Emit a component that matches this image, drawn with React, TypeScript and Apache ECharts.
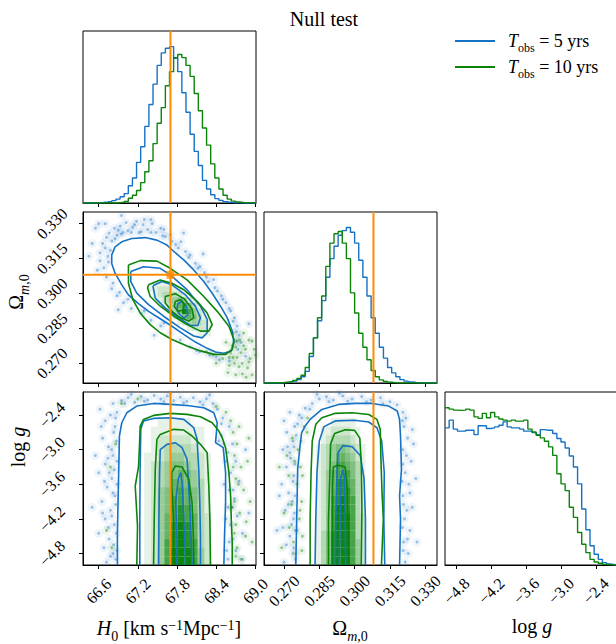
import React, { useEffect, useRef } from 'react';
import * as echarts from 'echarts';

const BLUE = '#1672c4';
const GREEN = '#0a850a';
const ORANGE = '#ff8c00';
const SERIF = 'Liberation Serif, DejaVu Serif, serif';

const TITLE = 'Null test';
const LEGEND_YEARS = ['5 yrs', '10 yrs'];

// axis ranges
const H0_MIN = 66.36, H0_MAX = 69.01;
const OM_MIN = 0.2615, OM_MAX = 0.335;
const LG_MIN = -5.0, LG_MAX = -2.0;
const HIST_MAX = 1.1;

const H0_TICKS = [66.6, 67.2, 67.8, 68.4, 69.0];
const OM_TICKS = [0.27, 0.285, 0.3, 0.315, 0.33];
const LG_TICKS = [-4.8, -4.2, -3.6, -3.0, -2.4];

const TRUTH_H0 = 67.7;
const TRUTH_OM = 0.308;

// 1D histograms (normalised, 42 bins over axis range)
const H0_HIST_BLUE = [0,0,0,0.001,0.003,0.006,0.01,0.015,0.025,0.04,0.06,0.11,0.16,0.26,0.36,0.49,0.63,0.76,0.88,0.96,0.99,1.0,0.925,0.84,0.705,0.58,0.44,0.33,0.24,0.145,0.09,0.053,0.028,0.017,0.008,0.004,0.002,0.001,0,0,0,0];
const H0_HIST_GREEN = [0,0,0,0,0,0,0,0,0.002,0.005,0.01,0.03,0.05,0.08,0.13,0.2,0.27,0.38,0.51,0.61,0.75,0.84,0.93,0.95,0.93,0.88,0.81,0.7,0.59,0.48,0.37,0.25,0.16,0.09,0.05,0.025,0.012,0.006,0.003,0.001,0,0];
const OM_HIST_BLUE = [0,0,0,0,0.002,0.004,0.008,0.013,0.022,0.04,0.075,0.17,0.29,0.4,0.53,0.68,0.8,0.88,0.95,0.98,1.0,0.97,0.9,0.79,0.68,0.56,0.42,0.32,0.23,0.16,0.1,0.065,0.04,0.022,0.012,0.006,0.003,0.001,0,0,0,0];
const OM_HIST_GREEN = [0,0,0,0.002,0.003,0.006,0.01,0.017,0.03,0.05,0.1,0.19,0.29,0.42,0.56,0.75,0.9,0.96,0.975,0.9,0.8,0.58,0.45,0.32,0.23,0.15,0.08,0.04,0.02,0.01,0.005,0.002,0,0,0,0,0,0,0,0,0,0];
const LG_HIST_BLUE = [0.872,0.921,0.864,0.851,0.851,0.857,0.857,0.829,0.885,0.885,0.868,0.872,0.878,0.889,0.91,0.878,0.872,0.872,0.864,0.851,0.851,0.842,0.829,0.861,0.857,0.857,0.836,0.804,0.782,0.744,0.693,0.623,0.516,0.356,0.224,0.122,0.068,0.036,0.015,0.006,0.002,0.001];
const LG_HIST_GREEN = [1.0,0.991,0.985,0.983,0.985,0.991,0.985,0.942,0.932,0.964,0.936,0.97,0.942,0.928,0.921,0.915,0.921,0.915,0.915,0.921,0.864,0.846,0.825,0.808,0.787,0.751,0.697,0.58,0.516,0.473,0.367,0.303,0.207,0.132,0.079,0.036,0.019,0.011,0.004,0.002,0.001,0];

// contours H0 - Omega
const CT_HO_BLUE = [
  [[67.81,0.2956],[67.882,0.2966],[67.944,0.2945],[67.964,0.2909],[67.913,0.2893],[67.841,0.2909],[67.8,0.2933],[67.81,0.2956]],
  [[67.431,0.3033],[67.569,0.3051],[67.723,0.3037],[67.928,0.2994],[68.082,0.2945],[68.159,0.2895],[68.118,0.2862],[68.005,0.2862],[67.826,0.2895],[67.62,0.2937],[67.467,0.298],[67.431,0.3033]],
  [[67.092,0.3094],[67.287,0.3115],[67.543,0.3108],[67.697,0.308],[67.954,0.3016],[68.159,0.2945],[68.262,0.2888],[68.262,0.2831],[68.185,0.2809],[68.056,0.2817],[67.851,0.2852],[67.595,0.2902],[67.364,0.2952],[67.184,0.3001],[67.092,0.3051],[67.092,0.3094]],
  [[66.8,0.3165],[66.851,0.32],[66.954,0.3222],[67.107,0.3236],[67.313,0.324],[67.492,0.3229],[67.646,0.3208],[67.774,0.3175],[67.903,0.3144],[68.056,0.3101],[68.21,0.3051],[68.339,0.3001],[68.467,0.2945],[68.57,0.2895],[68.646,0.2838],[68.672,0.2788],[68.631,0.2753],[68.518,0.2743],[68.39,0.2748],[68.262,0.2764],[68.082,0.2791],[67.903,0.2824],[67.723,0.2859],[67.543,0.2891],[67.364,0.2923],[67.21,0.2956],[67.056,0.2994],[66.954,0.3037],[66.851,0.3087],[66.8,0.3129],[66.8,0.3165]],
];
const CT_HO_GREEN = [
  [[67.774,0.2966],[67.862,0.2973],[67.913,0.2952],[67.892,0.2928],[67.81,0.2923],[67.759,0.2945],[67.774,0.2966]],
  [[67.62,0.2987],[67.774,0.2999],[67.913,0.2976],[68.031,0.2933],[68.056,0.2895],[67.98,0.2881],[67.851,0.2895],[67.723,0.2923],[67.62,0.2959],[67.62,0.2987]],
  [[67.364,0.3037],[67.543,0.3058],[67.723,0.3044],[67.903,0.3016],[68.108,0.2966],[68.262,0.2916],[68.339,0.2866],[68.287,0.2838],[68.159,0.2838],[67.954,0.2866],[67.749,0.2902],[67.543,0.2945],[67.39,0.2987],[67.349,0.3023],[67.364,0.3037]],
  [[67.056,0.3122],[67.236,0.3141],[67.492,0.3139],[67.697,0.3108],[67.954,0.3058],[68.21,0.2987],[68.416,0.2923],[68.595,0.2859],[68.672,0.2802],[68.646,0.276],[68.544,0.2738],[68.364,0.2738],[68.159,0.2753],[67.954,0.2774],[67.723,0.2802],[67.543,0.2831],[67.39,0.2866],[67.236,0.2916],[67.123,0.2973],[67.056,0.3044],[67.056,0.3122]],
];

// contours H0 - log g
const CT_HG_BLUE = [
  [[67.8,-5.0],[67.8,-4.5],[67.78,-3.9],[67.82,-3.5],[67.86,-3.4],[67.88,-3.6],[67.9,-4.1],[67.92,-4.6],[67.93,-5.0]],
  [[67.518,-5.0],[67.523,-4.206],[67.533,-3.398],[67.543,-3.0],[67.646,-2.908],[67.774,-2.879],[67.877,-2.965],[67.954,-3.167],[67.98,-3.629],[68.005,-4.206],[68.031,-5.0]],
  [[67.23,-5.0],[67.23,-4.206],[67.235,-3.34],[67.245,-2.648],[67.287,-2.504],[67.441,-2.458],[67.697,-2.446],[67.903,-2.475],[68.056,-2.619],[68.108,-2.821],[68.133,-3.34],[68.149,-3.917],[68.159,-4.494],[68.159,-5.0]],
  [[66.887,-5.0],[66.887,-4.437],[66.902,-3.629],[66.918,-2.763],[66.954,-2.533],[67.031,-2.36],[67.184,-2.244],[67.441,-2.198],[67.697,-2.215],[67.954,-2.233],[68.21,-2.273],[68.364,-2.36],[68.416,-2.533],[68.39,-2.879],[68.508,-2.965],[68.544,-3.398],[68.544,-3.917],[68.528,-4.494],[68.518,-5.0]],
];
const CT_HG_GREEN = [
  [[67.749,-5.0],[67.749,-4.206],[67.72,-3.629],[67.72,-3.4],[67.774,-3.283],[67.877,-3.3],[67.98,-3.513],[68.03,-3.917],[68.05,-4.494],[68.06,-5.0]],
  [[67.441,-5.0],[67.451,-4.206],[67.467,-3.34],[67.492,-2.821],[67.543,-2.735],[67.749,-2.648],[67.903,-2.66],[68.031,-2.763],[68.159,-2.908],[68.262,-3.052],[68.287,-3.629],[68.303,-4.206],[68.313,-5.0]],
  [[67.184,-5.0],[67.195,-4.321],[67.16,-3.63],[67.21,-3.3],[67.225,-2.936],[67.236,-2.59],[67.287,-2.475],[67.441,-2.406],[67.697,-2.371],[67.954,-2.388],[68.159,-2.429],[68.339,-2.533],[68.441,-2.677],[68.493,-2.792],[68.544,-2.965],[68.595,-3.398],[68.621,-3.802],[68.631,-4.206],[68.646,-4.61],[68.646,-5.0]],
];

// contours Omega - log g
const CT_OG_BLUE = [
  [[0.2935,-5.0],[0.2938,-4.2],[0.294,-3.5],[0.295,-3.35],[0.2958,-3.5],[0.296,-4.2],[0.2962,-5.0]],
  [[0.2918,-5.0],[0.292,-4.2],[0.2925,-3.4],[0.293,-3.05],[0.295,-2.93],[0.299,-2.95],[0.3024,-3.1],[0.304,-3.5],[0.3046,-4.2],[0.3046,-5.0]],
  [[0.2832,-5.0],[0.2835,-4.2],[0.284,-3.4],[0.285,-2.85],[0.287,-2.6],[0.292,-2.5],[0.3,-2.49],[0.306,-2.52],[0.3095,-2.62],[0.3115,-2.85],[0.3126,-3.4],[0.3124,-4.2],[0.3128,-5.0]],
  [[0.275,-5.0],[0.2754,-4.206],[0.2758,-3.34],[0.2768,-2.936],[0.2775,-2.706],[0.279,-2.59],[0.2811,-2.475],[0.2861,-2.302],[0.2932,-2.215],[0.3003,-2.198],[0.3074,-2.198],[0.3145,-2.244],[0.3181,-2.33],[0.3191,-2.475],[0.3195,-2.763],[0.3199,-3.34],[0.3191,-3.802],[0.3195,-4.206],[0.3191,-5.0]],
];
const CT_OG_GREEN = [
  [[0.2906,-5.0],[0.2906,-4.3],[0.2906,-3.6],[0.291,-3.3],[0.293,-3.27],[0.296,-3.3],[0.2967,-3.6],[0.2972,-4.3],[0.2975,-5.0]],
  [[0.2889,-5.0],[0.2889,-4.2],[0.2895,-3.4],[0.2898,-2.9],[0.2915,-2.72],[0.296,-2.655],[0.3,-2.665],[0.3022,-2.8],[0.3028,-3.2],[0.3031,-4.0],[0.3028,-5.0]],
  [[0.2811,-5.0],[0.2811,-4.2],[0.2815,-3.4],[0.282,-2.85],[0.2835,-2.56],[0.2861,-2.446],[0.2918,-2.37],[0.299,-2.36],[0.306,-2.39],[0.3095,-2.475],[0.3109,-2.65],[0.3112,-3.2],[0.3117,-3.8],[0.3122,-4.2],[0.3117,-4.7],[0.3114,-5.0]],
];

// samples outside the outer contours
const PTS_HO_BLUE = [[66.62,0.3175],[66.66,0.3215],[66.7,0.3195],[66.72,0.324],[66.76,0.326],[66.8,0.3225],[66.84,0.328],[66.88,0.325],[66.93,0.329],[66.97,0.3262],[67.02,0.3305],[67.05,0.327],[67.12,0.3285],[67.18,0.331],[67.22,0.3262],[67.28,0.3295],[67.35,0.3275],[67.42,0.33],[67.48,0.3262],[67.55,0.328],[67.62,0.3245],[67.7,0.3252],[67.78,0.321],[67.86,0.3222],[67.93,0.318],[68.0,0.3165],[68.08,0.313],[68.15,0.3115],[68.22,0.309],[68.28,0.305],[68.36,0.306],[68.42,0.301],[68.48,0.299],[68.55,0.296],[68.62,0.2925],[68.66,0.288],[68.72,0.286],[68.75,0.282],[68.78,0.279],[68.73,0.276],[68.6,0.271],[68.45,0.2715],[68.3,0.2735],[68.15,0.275],[68.0,0.277],[67.85,0.28],[67.7,0.283],[67.55,0.286],[67.4,0.2885],[67.25,0.2915],[67.1,0.2935],[66.98,0.296],[66.88,0.299],[66.8,0.302],[66.72,0.307],[66.68,0.311],[66.62,0.314],[66.58,0.31],[66.5,0.3215],[66.55,0.328],[66.6,0.33],[66.45,0.316],[67.9,0.326],[68.2,0.317],[68.9,0.287],[68.85,0.273],[66.9,0.293],[67.45,0.282],[66.95,0.3335],[66.7,0.33],[67.3,0.3318],
  [66.78,0.3185],[66.85,0.3235],[66.95,0.3255],[67.1,0.3262],[67.25,0.3265],[67.4,0.3262],[67.58,0.3248],[67.72,0.3225],[67.82,0.3195],[67.98,0.3155],[68.12,0.3108],[68.25,0.307],[68.38,0.3025],[68.5,0.2975],[68.6,0.2935],[68.68,0.2895],[68.71,0.2835],[68.7,0.2795],[66.75,0.3135],[66.74,0.316],[66.9,0.3272],[67.15,0.3295],[67.6,0.3275],[67.4,0.3318],[66.82,0.3045],[66.92,0.3005],[67.05,0.2975],[67.3,0.2925],[67.6,0.2873],[68.1,0.2755],[68.4,0.2728]];
const PTS_HO_GREEN = [[68.55,0.279],[68.62,0.2745],[68.7,0.277],[68.72,0.2725],[68.78,0.2745],[68.8,0.27],[68.85,0.276],[68.88,0.268],[68.92,0.272],[68.95,0.265],[68.68,0.27],[68.6,0.269],[68.5,0.272],[68.4,0.27],[68.76,0.28],[68.82,0.283],[68.98,0.276],[68.7,0.265],[68.9,0.28],[68.66,0.283],[68.58,0.266],[68.86,0.264],[68.35,0.2735],[68.25,0.275],
  [68.64,0.2775],[68.72,0.2795],[68.82,0.2775],[68.75,0.2685],[68.9,0.2705],[68.66,0.2725],[68.95,0.2795],[69.0,0.2735],[68.8,0.2655],[68.6,0.2725]];
const PTS_HG_BLUE = [[66.62,-2.3],[66.7,-2.5],[66.78,-2.4],[66.85,-2.6],[66.66,-2.8],[66.75,-2.95],[66.82,-3.1],[66.7,-3.25],[66.6,-3.4],[66.8,-3.5],[66.73,-3.65],[66.85,-3.8],[66.65,-3.9],[66.78,-4.05],[66.7,-4.2],[66.84,-4.3],[66.6,-4.45],[66.76,-4.55],[66.68,-4.7],[66.82,-4.8],[66.72,-4.95],[66.86,-4.9],[66.55,-3.1],[66.5,-4.0],[66.82,-2.2],[66.88,-2.35],[66.95,-2.15],[67.05,-2.1],[67.15,-2.18],[67.25,-2.08],[67.35,-2.14],[67.45,-2.06],[67.55,-2.12],[67.65,-2.07],[67.75,-2.15],[67.85,-2.09],[67.95,-2.16],[68.05,-2.1],[68.15,-2.17],[68.25,-2.12],[68.35,-2.2],[68.42,-2.3],[68.5,-2.45],[68.6,-2.6],[68.48,-2.75],[68.65,-2.9],[68.58,-3.05],[68.7,-3.2],[68.62,-3.4],[68.75,-3.55],[68.6,-3.7],[68.68,-3.85],[68.58,-4.0],[68.72,-4.15],[68.62,-4.3],[68.8,-4.45],[68.6,-4.6],[68.7,-4.75],[68.58,-4.9],[68.85,-3.0],[68.9,-4.1],
  [66.86,-2.45],[66.83,-2.7],[66.87,-2.85],[66.8,-3.0],[66.88,-3.2],[66.84,-3.35],[66.76,-3.4],[66.88,-3.6],[66.82,-3.75],[66.86,-3.95],[66.8,-4.15],[66.87,-4.45],[66.83,-4.65],[66.88,-4.75],[66.78,-4.85],[66.74,-3.15],[66.69,-3.55],[66.75,-4.35],[66.66,-4.1],[66.64,-2.6],[67.0,-2.2],[67.3,-2.16],[67.6,-2.17],[67.9,-2.19],[68.2,-2.22],[68.3,-2.05],[67.1,-2.04],[67.7,-2.03],[68.52,-3.6],[68.55,-4.2],[68.56,-4.75],[68.55,-3.2],[68.48,-2.55],[68.44,-2.85],[68.66,-3.7],[68.64,-4.0],[68.66,-4.55],[68.78,-4.9],[68.52,-2.9]];
const PTS_HG_GREEN = [[68.66,-2.7],[68.72,-2.9],[68.68,-3.1],[68.78,-3.3],[68.7,-3.5],[68.82,-3.7],[68.68,-3.9],[68.76,-4.1],[68.7,-4.3],[68.85,-4.5],[68.72,-4.7],[68.8,-4.9],[68.92,-3.9],[68.95,-4.6],[68.88,-3.2],[68.62,-2.5],[68.55,-2.35],[68.4,-2.25],[66.78,-3.3],[66.72,-4.4],[66.86,-2.9],[66.8,-4.7],[66.95,-2.2],[67.2,-2.12],
  [68.66,-3.3],[68.65,-4.0],[68.7,-4.85],[68.74,-3.6],[68.68,-4.45],[68.9,-2.8],[68.86,-4.25],[68.75,-2.6]];
const PTS_OG_BLUE = [[0.27,-2.5],[0.2725,-2.35],[0.2712,-2.7],[0.2738,-2.85],[0.2695,-3.0],[0.2728,-3.15],[0.271,-3.3],[0.2742,-3.45],[0.269,-3.6],[0.272,-3.75],[0.2735,-3.9],[0.2705,-4.05],[0.274,-4.2],[0.2695,-4.35],[0.2725,-4.5],[0.271,-4.65],[0.2738,-4.8],[0.27,-4.95],[0.268,-3.8],[0.267,-4.4],[0.2745,-2.6],[0.2765,-2.4],[0.279,-2.28],[0.282,-2.2],[0.285,-2.12],[0.288,-2.08],[0.291,-2.14],[0.295,-2.07],[0.299,-2.12],[0.303,-2.08],[0.307,-2.14],[0.311,-2.1],[0.315,-2.17],[0.318,-2.22],[0.3205,-2.35],[0.321,-2.6],[0.3225,-2.8],[0.3205,-3.0],[0.324,-3.2],[0.3215,-3.4],[0.323,-3.6],[0.3205,-3.8],[0.3245,-4.0],[0.3212,-4.2],[0.3235,-4.4],[0.3208,-4.6],[0.3228,-4.8],[0.3215,-4.95],[0.326,-3.5],[0.3265,-4.6],[0.325,-2.9],
  [0.2742,-2.95],[0.2746,-3.25],[0.2738,-3.55],[0.2747,-3.8],[0.2744,-4.1],[0.2748,-4.4],[0.2741,-4.7],[0.2748,-4.9],[0.2725,-3.05],[0.2718,-3.95],[0.2732,-4.3],[0.2715,-2.95],[0.2752,-2.75],[0.2758,-2.55],[0.2775,-2.45],[0.281,-2.3],[0.289,-2.17],[0.297,-2.16],[0.305,-2.17],[0.312,-2.2],[0.2935,-2.02],[0.284,-2.04],[0.3203,-2.5],[0.3205,-3.25],[0.3202,-3.55],[0.3208,-3.95],[0.3203,-4.35],[0.3206,-4.75],[0.322,-3.1],[0.3222,-4.05],[0.3235,-3.75],[0.3225,-4.55],[0.3218,-2.45],[0.3245,-2.65]];
const PTS_OG_GREEN = [[0.276,-3.0],[0.277,-3.3],[0.2755,-3.6],[0.2775,-3.9],[0.2765,-4.2],[0.2778,-4.5],[0.275,-4.8],[0.272,-3.45],[0.27,-4.1],[0.2735,-2.8],[0.2785,-2.6],[0.28,-2.45],[0.269,-4.7],[0.268,-3.3],[0.274,-4.6],
  [0.2772,-2.85],[0.2778,-3.45],[0.2768,-4.05],[0.2776,-4.75],[0.2745,-3.2],[0.2732,-3.95],[0.2755,-4.4],[0.2798,-2.7],[0.2722,-4.35],[0.2712,-3.1]];

// 2D density of the 10-yr run (digit = shade level), rows top -> bottom
const HEAT_HO = ['01111000000000','11222110000000','01233321000000','00123454210000','00012467531000','00001359742100','00000125653100','00000012343210','00000000122210','00000000001110'];
const HEAT_HO_BINS = { x0: 67.3875, dx: 0.075, y0: 0.3043, dy: 0.0024 };
const HEAT_HG = ['000000000000','000000000000','000000000000','000111110000','001111111100','001222221100','001233332100','011234433210','012345543210','012345654210','012346654310','012456765310','012457765310','012457875310','012467876320','012468986320','012468986320','012478987320','012479997420','012479997420'];
const HEAT_HG_BINS = { x0: 67.246, dx: 0.1025, y0: -2.075, dy: 0.15 };
const HEAT_OG = ['00000000000','00000000000','00000000000','00011111000','01122221100','01233332100','12345543210','12346654210','12357765310','12467775310','12468876310','12468886310','12478987310','12479987310','12479997320','12479997320','13589997320','13589997420','13589997420','13589997420'];
const HEAT_OG_BINS = { x0: 0.28465, dx: 0.0021, y0: -2.075, dy: 0.15 };
const SHADE_ALPHA = [0, 0.1, 0.2, 0.3, 0.4, 0.5, 0.6, 0.72, 0.85, 0.95];

const GRID_BOXES = [
  { left: 83, top: 31, width: 173, height: 172 },
  { left: 83, top: 212, width: 173, height: 171 },
  { left: 264, top: 212, width: 173, height: 171 },
  { left: 83, top: 392, width: 173, height: 173 },
  { left: 264, top: 392, width: 173, height: 173 },
  { left: 445, top: 392, width: 174, height: 173 },
];

function buildOption(): any {
  const fmt = (d: number) => (v: any) => Number(v).toFixed(d).replace('-', '\u2212');
  const axis = (gi: number, min: number, max: number, ticks: number[], labels: boolean, digits: number, isY: boolean) => ({
    type: 'value', gridIndex: gi, min, max,
    axisLine: { show: true, onZero: false, lineStyle: { color: '#000', width: 1 } },
    splitLine: { show: false },
    axisTick: { show: true, inside: false, length: 4, lineStyle: { color: '#000', width: 1 }, customValues: ticks },
    axisLabel: {
      show: labels, customValues: ticks, rotate: 45, align: 'center', verticalAlign: 'middle',
      margin: isY ? 31 : 26, formatter: fmt(digits), fontFamily: SERIF, fontSize: 16, color: '#000',
    },
  });
  const hiddenY = (gi: number) => ({ type: 'value', gridIndex: gi, min: 0, max: HIST_MAX, show: false });

  const xAxis = [
    axis(0, H0_MIN, H0_MAX, H0_TICKS, false, 1, false),
    axis(1, H0_MIN, H0_MAX, H0_TICKS, false, 1, false),
    axis(2, OM_MIN, OM_MAX, OM_TICKS, false, 3, false),
    axis(3, H0_MIN, H0_MAX, H0_TICKS, true, 1, false),
    axis(4, OM_MIN, OM_MAX, OM_TICKS, true, 3, false),
    axis(5, LG_MIN, LG_MAX, LG_TICKS, true, 1, false),
  ];
  const yAxis = [
    hiddenY(0),
    axis(1, OM_MIN, OM_MAX, OM_TICKS, true, 3, true),
    hiddenY(2),
    axis(3, LG_MIN, LG_MAX, LG_TICKS, true, 1, true),
    axis(4, LG_MIN, LG_MAX, LG_TICKS, false, 1, true),
    hiddenY(5),
  ];

  const series: any[] = [];
  const scatter = (gi: number, pts: number[][], color: string) => {
    series.push({
      type: 'scatter', xAxisIndex: gi, yAxisIndex: gi, data: pts, symbolSize: 9, silent: true, z: 1,
      itemStyle: { color, opacity: 0.07 },
    });
    series.push({
      type: 'scatter', xAxisIndex: gi, yAxisIndex: gi, data: pts, symbolSize: 3, silent: true, z: 1,
      itemStyle: { color, opacity: 0.4 },
    });
  };
  const heat = (gi: number, rows: string[], b: any) => {
    const data: number[][] = [];
    rows.forEach((row, r) => row.split('').forEach((ch, c) => {
      const v = Number(ch);
      if (v > 0) data.push([b.x0 + c * b.dx, b.y0 - r * b.dy, v]);
    }));
    series.push({
      type: 'custom', xAxisIndex: gi, yAxisIndex: gi, data, encode: { x: 0, y: 1 }, silent: true, z: 2, clip: true,
      renderItem: (_p: any, api: any) => {
        const x = api.value(0), y = api.value(1), v = api.value(2);
        const a = api.coord([x - b.dx / 2, y + b.dy / 2]);
        const e = api.coord([x + b.dx / 2, y - b.dy / 2]);
        return { type: 'rect', shape: { x: a[0], y: a[1], width: e[0] - a[0], height: e[1] - a[1] }, style: { fill: `rgba(0,128,0,${SHADE_ALPHA[v]})` } };
      },
    });
  };
  const lines = (gi: number, sets: number[][][], color: string) => sets.forEach((pts) => series.push({
    type: 'line', xAxisIndex: gi, yAxisIndex: gi, data: pts, symbol: 'none', showSymbol: false, silent: true, z: 3,
    lineStyle: { color, width: 1.6 },
  }));
  const hist = (gi: number, vals: number[], lo: number, hi: number, color: string) => {
    const w = (hi - lo) / vals.length;
    const data = vals.map((v, k) => [lo + k * w, v]);
    data.push([hi, vals[vals.length - 1]]);
    series.push({
      type: 'line', xAxisIndex: gi, yAxisIndex: gi, data, step: 'end', symbol: 'none', showSymbol: false, silent: true, z: 3,
      lineStyle: { color, width: 1.4 },
    });
  };
  const truth = (gi: number, pts: number[][]) => series.push({
    type: 'line', xAxisIndex: gi, yAxisIndex: gi, data: pts, symbol: 'none', showSymbol: false, silent: true, z: 5,
    lineStyle: { color: ORANGE, width: 2 },
  });

  // (0,0)
  hist(0, H0_HIST_BLUE, H0_MIN, H0_MAX, BLUE);
  hist(0, H0_HIST_GREEN, H0_MIN, H0_MAX, GREEN);
  truth(0, [[TRUTH_H0, 0], [TRUTH_H0, HIST_MAX]]);
  // (1,0)
  scatter(1, PTS_HO_BLUE, BLUE);
  scatter(1, PTS_HO_GREEN, GREEN);
  heat(1, HEAT_HO, HEAT_HO_BINS);
  lines(1, CT_HO_BLUE, BLUE);
  lines(1, CT_HO_GREEN, GREEN);
  truth(1, [[TRUTH_H0, OM_MIN], [TRUTH_H0, OM_MAX]]);
  truth(1, [[H0_MIN, TRUTH_OM], [H0_MAX, TRUTH_OM]]);
  series.push({ type: 'scatter', xAxisIndex: 1, yAxisIndex: 1, data: [[TRUTH_H0, TRUTH_OM]], symbol: 'rect', symbolSize: 8, silent: true, z: 6, itemStyle: { color: ORANGE } });
  // (1,1)
  hist(2, OM_HIST_BLUE, OM_MIN, OM_MAX, BLUE);
  hist(2, OM_HIST_GREEN, OM_MIN, OM_MAX, GREEN);
  truth(2, [[TRUTH_OM, 0], [TRUTH_OM, HIST_MAX]]);
  // (2,0)
  scatter(3, PTS_HG_BLUE, BLUE);
  scatter(3, PTS_HG_GREEN, GREEN);
  heat(3, HEAT_HG, HEAT_HG_BINS);
  lines(3, CT_HG_BLUE, BLUE);
  lines(3, CT_HG_GREEN, GREEN);
  truth(3, [[TRUTH_H0, LG_MIN], [TRUTH_H0, LG_MAX]]);
  // (2,1)
  scatter(4, PTS_OG_BLUE, BLUE);
  scatter(4, PTS_OG_GREEN, GREEN);
  heat(4, HEAT_OG, HEAT_OG_BINS);
  lines(4, CT_OG_BLUE, BLUE);
  lines(4, CT_OG_GREEN, GREEN);
  truth(4, [[TRUTH_OM, LG_MIN], [TRUTH_OM, LG_MAX]]);
  // (2,2)
  hist(5, LG_HIST_BLUE, LG_MIN, LG_MAX, BLUE);
  hist(5, LG_HIST_GREEN, LG_MIN, LG_MAX, GREEN);

  const base = { fontFamily: SERIF, fill: '#000' };
  const richBig = {
    r: { ...base, fontSize: 20, lineHeight: 30 },
    i: { ...base, fontSize: 20, lineHeight: 30, fontStyle: 'italic' },
    sub: { ...base, fontSize: 14, lineHeight: 14, verticalAlign: 'bottom' },
    subi: { ...base, fontSize: 14, lineHeight: 14, verticalAlign: 'bottom', fontStyle: 'italic' },
    sup: { ...base, fontSize: 14, lineHeight: 14, verticalAlign: 'top', padding: [5, 0, 0, 0] },
  };
  const richLeg = {
    r: { ...base, fontSize: 18, lineHeight: 26 },
    i: { ...base, fontSize: 18, lineHeight: 26, fontStyle: 'italic' },
    sub: { ...base, fontSize: 12, lineHeight: 12, verticalAlign: 'bottom' },
  };
  const txt = (x: number, y: number, text: string, rich: any, rotation = 0) => ({
    type: 'text', x, y, rotation, silent: true,
    style: { text, rich, align: 'center', verticalAlign: 'middle', fill: '#000', fontFamily: SERIF, fontSize: 20 },
  });
  const LBL_H0 = '{i|H}{sub|0}{r| [km s}{sup|\u22121}{r|Mpc}{sup|\u22121}{r|]}';
  const LBL_OM = '{r|\u03A9}{subi|m}{sub|,0}';
  const LBL_LG = '{r|log }{i|g}';

  const graphic: any[] = [
    { type: 'text', x: 324, y: 19, silent: true, style: { text: TITLE, align: 'center', verticalAlign: 'middle', fill: '#000', fontFamily: SERIF, fontSize: 20 } },
    txt(169, 628, LBL_H0, richBig),
    txt(350, 628, LBL_OM, richBig),
    txt(532, 626, LBL_LG, richBig),
    txt(16, 292, LBL_OM, richBig, Math.PI / 2),
    txt(18, 447, LBL_LG, richBig, Math.PI / 2),
    { type: 'line', silent: true, shape: { x1: 455, y1: 41, x2: 495, y2: 41 }, style: { stroke: BLUE, lineWidth: 2 } },
    { type: 'line', silent: true, shape: { x1: 455, y1: 67, x2: 495, y2: 67 }, style: { stroke: GREEN, lineWidth: 2 } },
    { type: 'text', x: 508, y: 41, silent: true, style: { text: `{i|T}{sub|obs}{r| = ${LEGEND_YEARS[0]}}`, rich: richLeg, align: 'left', verticalAlign: 'middle', fill: '#000', fontFamily: SERIF, fontSize: 18 } },
    { type: 'text', x: 508, y: 67, silent: true, style: { text: `{i|T}{sub|obs}{r| = ${LEGEND_YEARS[1]}}`, rich: richLeg, align: 'left', verticalAlign: 'middle', fill: '#000', fontFamily: SERIF, fontSize: 18 } },
  ];

  return {
    animation: false,
    backgroundColor: '#fff',
    textStyle: { fontFamily: SERIF },
    grid: GRID_BOXES.map((g) => ({ ...g, show: true, borderColor: '#000', borderWidth: 1, backgroundColor: 'rgba(0,0,0,0)', containLabel: false, outerBoundsMode: 'none' })),
    xAxis,
    yAxis,
    series,
    graphic,
  };
}

export default function App() {
  const ref = useRef<HTMLDivElement>(null);
  useEffect(() => {
    if (!ref.current) return;
    const chart = echarts.init(ref.current, null, { renderer: 'svg' });
    chart.setOption(buildOption());
    return () => chart.dispose();
  }, []);
  return <div ref={ref} style={{ position: 'absolute', left: 0, top: 0, width: 616, height: 644, background: '#fff' }} />;
}
